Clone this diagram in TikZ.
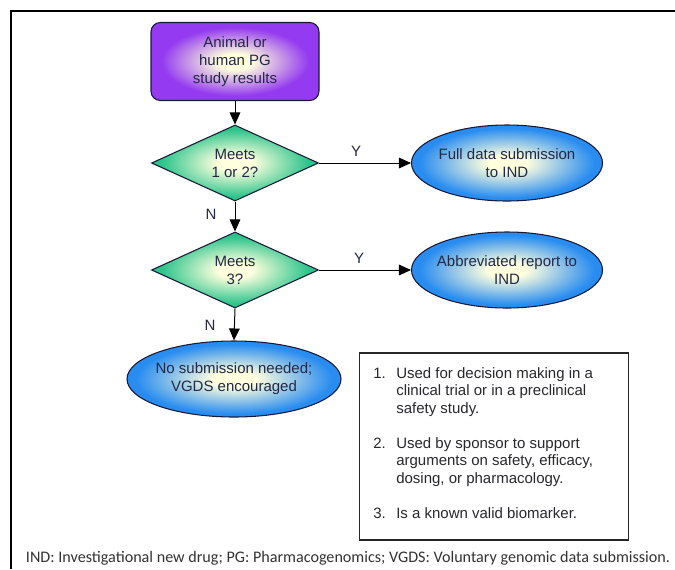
\documentclass[tikz,border=0pt]{standalone}
\usepackage{graphicx}
\usepackage{fontspec}
\setmainfont{Liberation Sans}
\newfontfamily\capfont{Carlito}
\usetikzlibrary{shapes.geometric,arrows.meta}
\definecolor{pviolet}{RGB}{148,58,240}
\definecolor{pgreen}{RGB}{45,196,140}
\definecolor{pblue}{RGB}{40,140,240}
\definecolor{glowc}{RGB}{255,255,222}
\definecolor{outlinec}{RGB}{25,25,55}
\definecolor{textc}{RGB}{35,40,70}
\definecolor{legc}{RGB}{40,40,45}
\pgfdeclareradialshading{glowviolet}{\pgfpointorigin}{color(0bp)=(glowc); color(5bp)=(glowc); color(22bp)=(pviolet); color(50bp)=(pviolet)}
\pgfdeclareradialshading{glowgreen}{\pgfpointorigin}{color(0bp)=(glowc); color(5bp)=(glowc); color(22bp)=(pgreen); color(50bp)=(pgreen)}
\pgfdeclareradialshading{glowblue}{\pgfpointorigin}{color(0bp)=(glowc); color(5bp)=(glowc); color(23bp)=(pblue); color(50bp)=(pblue)}
\newcommand\flowfont{\fontsize{11.25pt}{13.5pt}\selectfont}
\newcommand\legfont{\fontsize{11.25pt}{13.125pt}\selectfont}
\tikzset{
  procbox/.style={rectangle, rounded corners=7pt, draw=outlinec, line width=0.8pt,
    shade, shading=glowviolet, minimum width=126pt, minimum height=58.5pt,
    inner sep=0pt, align=center, text=textc, font=\flowfont},
  decbox/.style={diamond, draw=outlinec, line width=0.8pt, shade, shading=glowgreen,
    minimum width=125.25pt, minimum height=57pt, inner sep=0pt, align=center,
    text=textc, font=\flowfont},
  termbox/.style={ellipse, draw=outlinec, line width=0.8pt, shade, shading=glowblue,
    minimum width=143.25pt, minimum height=57pt, inner xsep=-5pt, inner ysep=0pt,
    align=center, text=textc, font=\flowfont},
  flowarrow/.style={-{Triangle[length=9pt,width=8pt]}, line width=0.75pt, draw=black},
  branchlabel/.style={text=textc, font=\flowfont, inner sep=0pt},
  legendbox/.style={rectangle, draw=black!85, line width=0.9pt, minimum width=201.75pt,
    minimum height=140.25pt, inner sep=0pt},
  legendtext/.style={inner sep=0pt, text=legc, font=\legfont}
}
\begin{document}
\begin{tikzpicture}[x=0.75pt,y=-0.75pt]
\useasboundingbox (0,0) rectangle (675,569);
\fill[white] (0,0) rectangle (675,569);
\draw[line width=1.9pt] (11,569) -- (11,11) -- (675,11);

\node[procbox] (start) at (235,61.5) {Animal or\\human PG\\study results};
\node[decbox] (d1) at (235,163) {Meets\\1 or 2?};
\node[termbox] (e1) at (507,163) {Full data submission\\to IND};
\node[decbox] (d2) at (235,270) {Meets\\3?};
\node[termbox] (e2) at (507,270) {Abbreviated report to\\IND};
\node[termbox, minimum width=160.5pt] (e3) at (234,379) {No submission needed;\\VGDS encouraged};

\draw[flowarrow] (start.south) -- (d1.north);
\draw[flowarrow] (d1.east) -- (e1.west);
\draw[flowarrow] (d1.south) -- (d2.north);
\draw[flowarrow] (d2.east) -- (e2.west);
\draw[flowarrow] (d2.south) -- (e3.north);

\node[branchlabel] (y1) at (356,151) {Y};
\node[branchlabel] (y2) at (359,258) {Y};
\node[branchlabel] (n1) at (211,214) {N};
\node[branchlabel] (n2) at (210,325) {N};

\node[legendbox] (legend) at (494,446.5) {};
\node[legendtext, anchor=base west] (legendtxt) at (373,378) {\begin{tabular}[t]{@{}p{17.25pt}@{}l@{}}
1. & Used for decision making in a\\
 & clinical trial or in a preclinical\\
 & safety study.\\
 & \\
2. & Used by sponsor to support\\
 & arguments on safety, efficacy,\\
 & dosing, or pharmacology.\\
 & \\
3. & Is a known valid biomarker.
\end{tabular}};

\node[inner sep=0pt, text=black!80] (caption) at (348,558.5) {\resizebox{483pt}{!}{\capfont IND: Investigational new drug; PG: Pharmacogenomics; VGDS: Voluntary genomic data submission.}};
\end{tikzpicture}
\end{document}
